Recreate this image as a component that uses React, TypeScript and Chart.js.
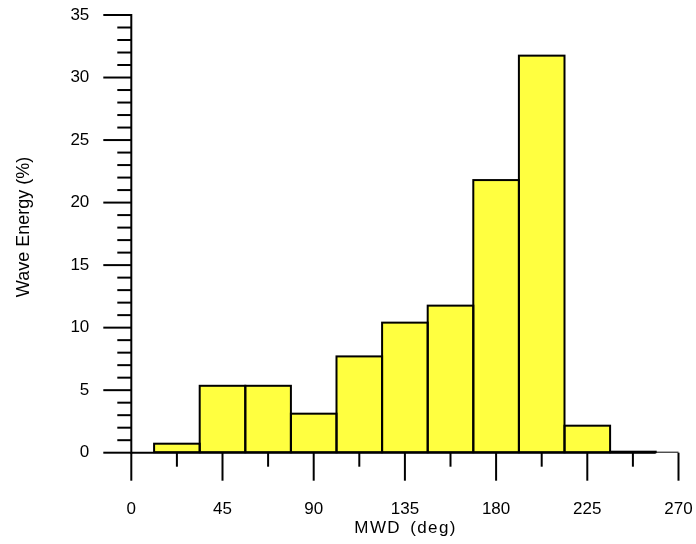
import React, { useEffect, useRef } from 'react';
import { Chart, registerables } from 'chart.js';

Chart.register(...registerables);

const BIN_CENTERS = [22.5, 45, 67.5, 90, 112.5, 135, 157.5, 180, 202.5, 225, 247.5];
const WAVE_ENERGY = [0.72, 5.35, 5.35, 3.12, 7.7, 10.4, 11.76, 21.8, 31.75, 2.16, 0.08];
const X_TICKS = [0, 45, 90, 135, 180, 225, 270];
const Y_TICKS = [0, 5, 10, 15, 20, 25, 30, 35];
const X_MINOR_STEP = 22.5;
const Y_MINOR_STEP = 1;
const X_TITLE = 'MWD (deg)';
const Y_TITLE = 'Wave Energy (%)';

const FONT = '"Liberation Sans", Arial, sans-serif';
const BAR_FILL = '#ffff40';

const axesPlugin = {
  id: 'customAxes',
  afterDatasetsDraw(chart: any) {
    const ctx = chart.ctx;
    const meta = chart.getDatasetMeta(0);
    ctx.save();
    ctx.strokeStyle = '#000';
    ctx.lineWidth = 2;
    meta.data.forEach((el: any) => {
      const { x, y, base, width } = el.getProps(['x', 'y', 'base', 'width'], true);
      ctx.strokeRect(x - width / 2, y, width, base - y);
    });
    ctx.restore();
  },
  afterDraw(chart: any) {
    const { ctx, chartArea } = chart;
    const xs = chart.scales.x;
    const ys = chart.scales.y;
    const left = xs.getPixelForValue(X_TICKS[0]);
    const right = xs.getPixelForValue(X_TICKS[X_TICKS.length - 1]);
    const bottom = ys.getPixelForValue(Y_TICKS[0]);
    const top = ys.getPixelForValue(Y_TICKS[Y_TICKS.length - 1]);
    ctx.save();
    ctx.strokeStyle = '#000';
    ctx.lineCap = 'butt';

    const meta = chart.getDatasetMeta(0);
    const lastEl = meta.data[meta.data.length - 1];
    const lastRight = lastEl ? lastEl.x + lastEl.width / 2 : right;
    ctx.lineWidth = 2;
    ctx.beginPath();
    ctx.moveTo(left, bottom);
    ctx.lineTo(lastRight, bottom);
    ctx.stroke();
    ctx.lineWidth = 1;
    ctx.beginPath();
    ctx.moveTo(lastRight, bottom - 0.5);
    ctx.lineTo(right, bottom - 0.5);
    ctx.stroke();

    ctx.lineWidth = 2;
    ctx.beginPath();
    ctx.moveTo(left, top - 1);
    ctx.lineTo(left, bottom + 1);
    ctx.stroke();

    const yMin = Y_TICKS[0];
    const yMax = Y_TICKS[Y_TICKS.length - 1];
    for (let v = yMin; v <= yMax + 1e-9; v += Y_MINOR_STEP) {
      const major = Y_TICKS.some((t) => Math.abs(t - v) < 1e-9);
      const len = major ? 28 : 14;
      const py = ys.getPixelForValue(v);
      ctx.beginPath();
      ctx.moveTo(left - len, py);
      ctx.lineTo(left, py);
      ctx.stroke();
    }

    const xMin = X_TICKS[0];
    const xMax = X_TICKS[X_TICKS.length - 1];
    for (let v = xMin; v <= xMax + 1e-9; v += X_MINOR_STEP) {
      const major = X_TICKS.some((t) => Math.abs(t - v) < 1e-9);
      const len = major ? 28 : 14;
      const px = xs.getPixelForValue(v);
      ctx.beginPath();
      ctx.moveTo(px, bottom);
      ctx.lineTo(px, bottom + len);
      ctx.stroke();
    }

    ctx.fillStyle = '#000';
    ctx.font = `17px ${FONT}`;
    ctx.textAlign = 'center';
    ctx.textBaseline = 'alphabetic';
    try {
      (ctx as any).letterSpacing = '1.4px';
      (ctx as any).wordSpacing = '3px';
    } catch (e) {}
    ctx.fillText(X_TITLE, (chartArea.left + chartArea.right) / 2 + 0.7, 532.5);
    try {
      (ctx as any).letterSpacing = '0px';
      (ctx as any).wordSpacing = '0px';
    } catch (e) {}

    ctx.font = `18px ${FONT}`;
    ctx.translate(28.5, 227);
    ctx.rotate(-Math.PI / 2);
    ctx.fillText(Y_TITLE, 0, 0);
    ctx.restore();
  },
};

export default function App() {
  const ref = useRef<HTMLCanvasElement | null>(null);

  useEffect(() => {
    document.body.style.margin = '0';
    const canvas = ref.current;
    if (!canvas) return;
    const hiddenGrid = (len: number) => ({
      display: true,
      drawOnChartArea: false,
      drawTicks: true,
      tickLength: len,
      color: 'rgba(0,0,0,0)',
    });
    const chart = new Chart(canvas, {
      type: 'bar',
      data: {
        datasets: [
          {
            data: BIN_CENTERS.map((c, i) => ({ x: c, y: WAVE_ENERGY[i] })),
            backgroundColor: BAR_FILL,
            borderWidth: 0,
            barPercentage: 1,
            categoryPercentage: 1,
          },
        ],
      },
      options: {
        animation: false,
        responsive: false,
        layout: { padding: { top: 15, right: 17.5, left: 0, bottom: 0 } },
        plugins: { legend: { display: false }, tooltip: { enabled: false } },
        scales: {
          x: {
            type: 'linear',
            min: X_TICKS[0],
            max: X_TICKS[X_TICKS.length - 1],
            offset: false,
            grid: hiddenGrid(44),
            border: { display: false },
            afterBuildTicks: (s: any) => {
              s.ticks = X_TICKS.map((v) => ({ value: v }));
            },
            ticks: {
              padding: 2,
              color: '#000',
              font: { family: FONT, size: 17 },
              maxRotation: 0,
              autoSkip: false,
            },
            afterFit: (s: any) => {
              s.height = 91.3;
            },
          },
          y: {
            type: 'linear',
            min: Y_TICKS[0],
            max: Y_TICKS[Y_TICKS.length - 1],
            grid: hiddenGrid(40),
            border: { display: false },
            afterBuildTicks: (s: any) => {
              s.ticks = Y_TICKS.map((v) => ({ value: v }));
            },
            ticks: {
              padding: 2,
              color: '#000',
              font: { family: FONT, size: 17 },
              autoSkip: false,
            },
            afterFit: (s: any) => {
              s.width = 131.3;
            },
          },
        },
      },
      plugins: [axesPlugin],
    } as any);
    return () => chart.destroy();
  }, []);

  return <canvas ref={ref} width={696} height={544} style={{ display: 'block' }} />;
}
